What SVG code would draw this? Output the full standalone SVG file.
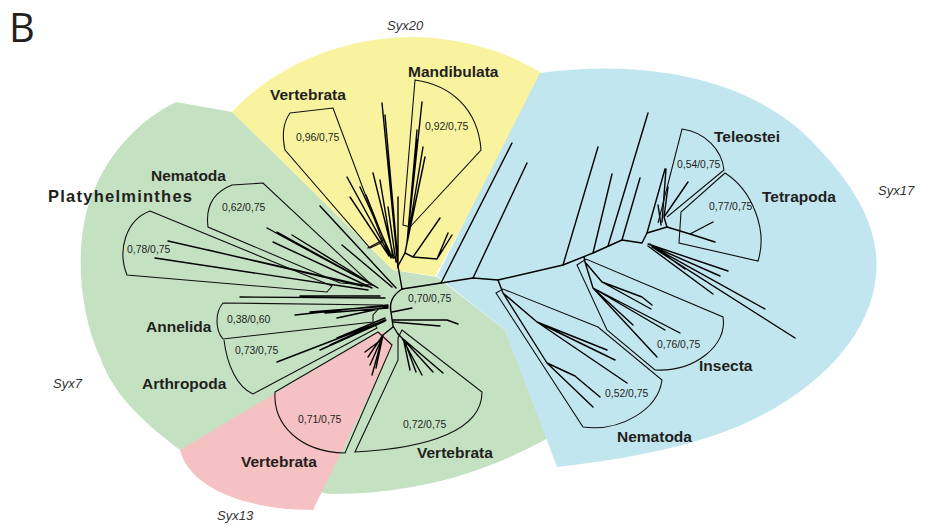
<svg xmlns="http://www.w3.org/2000/svg" width="929" height="530" viewBox="0 0 929 530">
<style>
.br{fill:none;stroke:#111;stroke-width:1.1;stroke-linejoin:miter}
.tr{fill:none;stroke:#000;stroke-width:1.4;stroke-linecap:round;stroke-linejoin:round}
.lb{font-family:"Liberation Sans",Arial,sans-serif;font-weight:bold;font-size:15.5px;fill:#231f20}
.sv{font-family:"Liberation Sans",Arial,sans-serif;font-size:10.4px;fill:#231f20}
.sx{font-family:"Liberation Sans",Arial,sans-serif;font-style:italic;font-size:13px;fill:#333}
</style>
<rect width="929" height="530" fill="#fff"/>
<g id="regions">
<path id="syx7-region" fill="#c4e2c2" d="M176,102 L232,112 L393,270 L437,277 L505,330 L548,438 C480,476 410,494 330,494 L250,480 L180,450 C140,420 112,392 100,357 C78,310 74,240 92,195 C110,150 140,120 176,102 Z"/>
<path id="syx13-region" fill="#f6c1c2" d="M180,450 L378,332 L384,332 L393,346 L313,510 C250,510 190,490 180,450 Z"/>
<path id="syx20-region" fill="#f9f39f" d="M232,112 C265,75 330,38 410,37 C460,37 510,52 545,75 L435,276 L393,270 Z"/>
<path id="syx17-region" fill="#c2e6ef" d="M540,73 C650,58 760,80 820,150 C862,195 880,235 876,275 C870,345 800,410 700,440 C650,455 600,462 557,467 L505,330 L437,276 Z"/>
</g>
<g id="connectors" class="tr">
<path d="M402,289 Q388,298 391,312 L393,326 L398,334"/>
<path d="M402,289 L441,283 L473,278 L498,280 L563,265 L593,253 L622,240 L642,243 L647,233 L667,227"/>
<path d="M402,289 L398,266"/>
<path d="M392,312 L412,308 M393,320 L447,320 L458,324 M393,322 L440,326"/>
<path d="M398,268 L382,103 M398,262 L385,115 M398,266 L398,197 M396,262 L388,207 M394,258 L373,173 M392,257 L360,187 M390,256 L347,177 M389,256 L350,197 M391,258 L366,195 M393,258 L380,180 M368,248 L383,240"/>
<path d="M398,266 L405,253 L407,243 L422,102 M407,243 L417,130 M407,243 L423,147 M407,243 L425,157 M407,243 L423,167 M407,243 L417,140"/>
<path d="M405,253 L413,257 L437,259 L448,233 M437,259 L452,235 M413,257 L440,218"/>
<path d="M396,288 L320,206 M392,287 L342,245 M378,288 L267,228 M378,288 L277,232 M378,288 L292,235 M372,288 L273,242 M370,287 L168,241 M368,290 L155,258 M362,286 L208,250 M385,298 L240,297 M380,296 L300,296"/>
<path d="M388,305 L295,315 M388,306 L310,312 M388,307 L337,318 M388,308 L325,313"/>
<path d="M386,320 L277,362 M385,318 L337,338 M385,320 L330,345 M385,321 L320,350"/>
<path d="M393,327 L383,335 L368,357 M383,335 L372,375 M383,335 L376,368 M381,340 L365,352 M382,338 L370,365"/>
<path d="M398,334 L402,338 L422,375 M402,338 L443,373 M402,338 L433,372 M404,342 L410,370 M405,342 L416,372"/>
<path d="M441,283 L512,143 M473,278 L527,163 M563,265 L598,147 M593,253 L612,174 M608,246 L648,113 M622,240 L640,178"/>
<path d="M647,233 L665,169 M667,227 L664,217 L688,182 M664,217 L668,187 M662,222 L666,169 M661,225 L658,205"/>
<path d="M667,227 L690,234 L715,242 M690,234 L713,222"/>
<path d="M648,244 L728,271 M652,246 L720,276 M648,246 L713,294 M650,244 L685,269 M655,248 L765,309 M652,247 L795,338"/>
<path d="M584,257 L585,262 L602,282 L642,297 L652,305 M602,282 L651,309 M585,262 L593,288 L680,333 M593,288 L665,330 M593,288 L657,357 M593,288 L633,325"/>
<path d="M498,280 L503,293 L537,322 L607,350 M537,322 L615,360 M537,322 L627,383 M503,293 L547,363 L575,376 L600,397 M547,363 L593,407"/>
</g>
<g id="n-syx20-vertebrata">
<path class="br" d="M290,113 L333,108 L383,242 L370,248 L285,150 Q280,127 290,113 Z"/>
<text class="lb" x="270" y="100">Vertebrata</text>
<text class="sv" x="296" y="141">0,96/0,75</text>
</g>
<g id="n-mandibulata">
<path class="br" d="M415,80 L403,225 L410,227 L481,150 C478,108 450,85 415,80 Z"/>
<text class="lb" x="408" y="77">Mandibulata</text>
<text class="sv" x="425" y="130">0,92/0,75</text>
</g>
<g id="n-syx7-nematoda">
<path class="br" d="M232,185 L263,183 L372,285 L340,283 L208,227 Q204,196 232,185 Z"/>
<text class="lb" x="151" y="181">Nematoda</text>
<text class="sv" x="222" y="211">0,62/0,75</text>
</g>
<g id="n-platyhelminthes">
<path class="br" d="M150,211 L332,286 L327,292 L127,275 C117,250 126,220 150,211 Z"/>
<text class="lb" x="48" y="202" textLength="144" style="font-size:16.5px">Platyhelminthes</text>
<text class="sv" x="127" y="253">0,78/0,75</text>
</g>
<g id="n-annelida">
<path class="br" d="M223,303 L382,305 L373,315 L373,322 L223,339 C215,330 215,312 223,303 Z"/>
<text class="lb" x="146" y="332">Annelida</text>
<text class="sv" x="227" y="323">0,38/0,60</text>
</g>
<g id="n-arthropoda">
<path class="br" d="M224,340 C227,365 237,387 253,394 L377,328 L373,322"/>
<text class="lb" x="142" y="389">Arthropoda</text>
<text class="sv" x="235" y="354">0,73/0,75</text>
</g>
<g id="n-syx13-vertebrata">
<path class="br" d="M275,392 L378,332 L392,345 L345,453 C300,452 273,425 275,392 Z"/>
<text class="lb" x="241" y="467">Vertebrata</text>
<text class="sv" x="298" y="423">0,71/0,75</text>
</g>
<g id="n-syx7-vertebrata">
<path class="br" d="M402,330 L482,392 C482,430 430,448 355,452 L398,360 L398,338 Z"/>
<text class="lb" x="417" y="458">Vertebrata</text>
<text class="sv" x="403" y="428">0,72/0,75</text>
</g>
<g id="n-root">
<text class="sv" x="408" y="302">0,70/0,75</text>
</g>
<g id="n-teleostei">
<path class="br" d="M658,223 L682,129 C705,132 722,150 724,170 L667,217"/>
<text class="lb" x="714" y="142">Teleostei</text>
<text class="sv" x="677" y="168">0,54/0,75</text>
</g>
<g id="n-tetrapoda">
<path class="br" d="M725,173 C752,190 768,230 758,261 L679,243 L681,212 Z"/>
<text class="lb" x="762" y="202">Tetrapoda</text>
<text class="sv" x="709" y="210">0,77/0,75</text>
</g>
<g id="n-insecta">
<path class="br" d="M577,265 L586,259 L723,317 C728,345 695,372 655,370 L607,330 Z"/>
<text class="lb" x="699" y="371">Insecta</text>
<text class="sv" x="657" y="348">0,76/0,75</text>
</g>
<g id="n-syx17-nematoda">
<path class="br" d="M496,293 L503,289 L598,327 L662,380 C658,410 620,432 583,427 Z"/>
<text class="lb" x="617" y="442">Nematoda</text>
<text class="sv" x="605" y="397">0,52/0,75</text>
</g>
<g id="labels">
<text x="9" y="42" style="font-family:'Open Sans','Liberation Sans',sans-serif;font-size:40px;fill:#231f20">B</text>
<text class="sx" x="387" y="30">Syx20</text>
<text class="sx" x="878" y="195">Syx17</text>
<text class="sx" x="53" y="388">Syx7</text>
<text class="sx" x="217" y="520">Syx13</text>
</g>
</svg>
